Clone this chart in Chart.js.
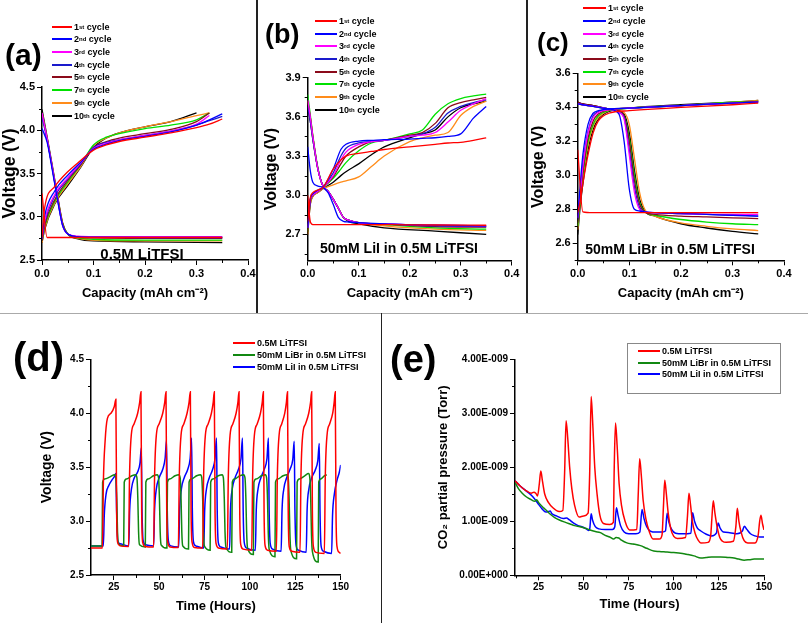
<!DOCTYPE html>
<html>
<head>
<meta charset="utf-8">
<script src="https://cdn.jsdelivr.net/npm/chart.js@4.4.1/dist/chart.umd.min.js"></script>
<style>
body { margin: 0; background: #fff; }
#fig { position: relative; width: 808px; height: 623px; overflow: hidden; font-family: "Liberation Sans", Arial, sans-serif; font-weight: bold; color: #000; }
#fig canvas { position: absolute; }
.lbl { position: absolute; line-height: 1; white-space: nowrap; }
.rule { position: absolute; }
.leg { position: absolute; }
.leg .row { display: flex; align-items: center; white-space: nowrap; }
.leg .sw { display: inline-block; height: 2px; margin-right: 2px; }
.leg sup { font-size: 6px; line-height: 0; vertical-align: 4px; }
.note { position: absolute; transform: translate(-50%, -50%); white-space: nowrap; line-height: 1; }
.box { position: absolute; border: 1px solid #888; }
</style>
</head>
<body>
<div id="fig">
  <canvas id="ca" width="257" height="312" style="left:0;top:0"></canvas>
  <canvas id="cb" width="268" height="312" style="left:258px;top:0"></canvas>
  <canvas id="cc" width="280" height="312" style="left:528px;top:0"></canvas>
  <canvas id="cd" width="380" height="309" style="left:0;top:314px"></canvas>
  <canvas id="ce" width="426" height="309" style="left:382px;top:314px"></canvas>

  <div class="rule" style="left:256px;top:0;width:1.5px;height:313px;background:#222"></div>
  <div class="rule" style="left:526px;top:0;width:1.5px;height:313px;background:#222"></div>
  <div class="rule" style="left:0;top:312.5px;width:808px;height:1.5px;background:#aaa"></div>
  <div class="rule" style="left:380.5px;top:313px;width:1.5px;height:310px;background:#222"></div>

  <div class="lbl" style="left:5px;top:39.5px;font-size:30px">(a)</div>
  <div class="lbl" style="left:265px;top:21px;font-size:27px">(b)</div>
  <div class="lbl" style="left:537px;top:28.5px;font-size:26px">(c)</div>
  <div class="lbl" style="left:13px;top:336.5px;font-size:40px">(d)</div>
  <div class="lbl" style="left:390px;top:340px;font-size:38px">(e)</div>

  <div class="note" style="left:142px;top:253px;font-size:15px">0.5M LiTFSI</div>
  <div class="note" style="left:399px;top:248px;font-size:14px">50mM LiI in 0.5M LiTFSI</div>
  <div class="note" style="left:670px;top:249px;font-size:14px">50mM LiBr in 0.5M LiTFSI</div>

  <div class="box" style="left:627px;top:343px;width:152px;height:49px"></div>
</div>
<script>
// ---- ciclos (a)-(c) ----
var cycleNames = ['1st', '2nd', '3rd', '4th', '5th', '7th', '9th', '10th'];
var cycleColors = ['#ff0000', '#0000ff', '#ff00ff', '#1a1acc', '#8b0a1a', '#00e000', '#ff8c1a', '#000000'];

var capTicks = [0, 0.1, 0.2, 0.3, 0.4];

// (a) 0.5M LiTFSI
var aDisX = [0, 0.01, 0.02, 0.03, 0.04, 0.05, 0.07, 0.1, 0.2, 0.35];
var aDis = [
	[3.27, 2.76, 2.76, 2.76, 2.76, 2.76, 2.76, 2.76, 2.76, 2.76],
	[4.02, 3.86, 3.54, 3.2, 2.9, 2.8, 2.77, 2.765, 2.76, 2.76],
	[4.2, 3.9, 3.57, 3.22, 2.9, 2.8, 2.775, 2.77, 2.77, 2.77],
	[4.15, 3.89, 3.56, 3.21, 2.9, 2.8, 2.77, 2.765, 2.76, 2.76],
	[4.2, 3.9, 3.57, 3.23, 2.92, 2.8, 2.765, 2.755, 2.75, 2.75],
	[4.2, 3.9, 3.57, 3.23, 2.92, 2.8, 2.755, 2.74, 2.73, 2.73],
	[4.2, 3.9, 3.58, 3.24, 2.93, 2.8, 2.75, 2.73, 2.72, 2.72],
	[4.24, 3.92, 3.59, 3.25, 2.93, 2.8, 2.745, 2.72, 2.71, 2.7]
];
var aChgX = [0, 0.005, 0.025, 0.05, 0.075, 0.1, 0.125, 0.15, 0.2, 0.25, 0.3, 0.325, 0.35];
var aChg = [
	[2.76, 3.1, 3.35, 3.52, 3.65, 3.77, 3.83, 3.87, 3.92, 3.97, 4.03, 4.07, 4.13],
	[2.75, 3.0, 3.3, 3.48, 3.63, 3.78, 3.84, 3.88, 3.93, 3.98, 4.06, 4.12, 4.19],
	[2.75, 2.95, 3.26, 3.45, 3.62, 3.79, 3.85, 3.89, 3.94, 3.99, 4.07, 4.17, null],
	[2.75, 2.93, 3.24, 3.44, 3.61, 3.8, 3.86, 3.89, 3.94, 3.99, 4.06, 4.11, 4.16],
	[2.72, 2.9, 3.2, 3.42, 3.6, 3.8, 3.87, 3.91, 3.96, 4.01, 4.1, 4.2, null],
	[2.72, 2.88, 3.18, 3.4, 3.6, 3.83, 3.92, 3.96, 4.02, 4.06, 4.12, 4.2, null],
	[2.7, 2.86, 3.16, 3.38, 3.58, 3.82, 3.91, 3.97, 4.04, 4.1, 4.17, 4.2, null],
	[2.7, 2.85, 3.15, 3.36, 3.57, 3.8, 3.91, 3.97, 4.04, 4.1, 4.2, null, null]
];

// (b) 50mM LiI
var bDisX = [0, 0.005, 0.01, 0.02, 0.03, 0.04, 0.05, 0.06, 0.07, 0.08, 0.1, 0.15, 0.25, 0.35];
var bDis = [
	[3.0, 2.8, 2.775, 2.775, 2.775, 2.775, 2.775, 2.775, 2.775, 2.775, 2.775, 2.775, 2.772, 2.77],
	[3.37, 3.19, 3.1, 3.07, 3.06, 3.02, 2.93, 2.83, 2.8, 2.795, 2.79, 2.78, 2.77, 2.765],
	[3.73, 3.6, 3.45, 3.2, 3.07, 3.03, 2.97, 2.9, 2.83, 2.81, 2.79, 2.78, 2.77, 2.765],
	[3.68, 3.57, 3.43, 3.2, 3.07, 3.03, 2.97, 2.9, 2.83, 2.81, 2.79, 2.78, 2.765, 2.76],
	[3.72, 3.6, 3.45, 3.2, 3.07, 3.03, 2.97, 2.9, 2.83, 2.81, 2.79, 2.78, 2.76, 2.755],
	[3.77, 3.62, 3.46, 3.21, 3.07, 3.03, 2.97, 2.9, 2.83, 2.81, 2.79, 2.775, 2.75, 2.74],
	[3.72, 3.6, 3.45, 3.2, 3.07, 3.03, 2.97, 2.9, 2.83, 2.81, 2.79, 2.765, 2.74, 2.73],
	[3.68, 3.57, 3.43, 3.2, 3.07, 3.03, 2.97, 2.9, 2.83, 2.8, 2.78, 2.75, 2.725, 2.7]
];
var bChgX = [0, 0.005, 0.01, 0.02, 0.03, 0.05, 0.065, 0.075, 0.1, 0.125, 0.15, 0.2, 0.225, 0.25, 0.275, 0.3, 0.325, 0.35];
var bChg = [
	[2.8, 2.98, 3.02, 3.04, 3.06, 3.2, 3.27, 3.3, 3.32, 3.335, 3.35, 3.37, 3.38, 3.39, 3.4, 3.405, 3.42, 3.44],
	[2.75, 2.97, 3.01, 3.04, 3.06, 3.2, 3.35, 3.39, 3.415, 3.42, 3.425, 3.43, 3.435, 3.44, 3.45, 3.47, 3.59, 3.68],
	[2.75, 2.96, 3.0, 3.03, 3.06, 3.15, 3.27, 3.33, 3.39, 3.41, 3.42, 3.45, 3.46, 3.48, 3.56, 3.65, 3.7, 3.74],
	[2.75, 2.96, 3.0, 3.03, 3.06, 3.17, 3.3, 3.36, 3.4, 3.41, 3.42, 3.45, 3.47, 3.52, 3.63, 3.68, 3.71, 3.73],
	[2.72, 2.95, 3.0, 3.03, 3.06, 3.14, 3.24, 3.3, 3.37, 3.41, 3.42, 3.46, 3.48, 3.55, 3.67, 3.71, 3.73, 3.75],
	[2.72, 2.95, 3.0, 3.03, 3.06, 3.13, 3.2, 3.25, 3.34, 3.4, 3.42, 3.47, 3.5, 3.62, 3.7, 3.74, 3.76, 3.775],
	[2.7, 2.93, 2.99, 3.02, 3.05, 3.08, 3.1, 3.11, 3.14, 3.22, 3.3, 3.41, 3.44, 3.46, 3.48, 3.61, 3.68, 3.72],
	[2.7, 2.93, 2.99, 3.02, 3.05, 3.1, 3.15, 3.18, 3.24, 3.31, 3.37, 3.44, 3.47, 3.5, 3.6, 3.67, 3.7, 3.72]
];

// (c) 50mM LiBr
var cDisX = [0, 0.01, 0.03, 0.06, 0.08, 0.09, 0.1, 0.11, 0.12, 0.13, 0.15, 0.2, 0.25, 0.3, 0.35];
var cDis = [
	[3.15, 2.785, 2.78, 2.78, 2.78, 2.78, 2.78, 2.78, 2.78, 2.78, 2.78, 2.78, 2.78, 2.78, 2.78],
	[3.42, 3.415, 3.405, 3.39, 3.36, 3.2, 2.92, 2.8, 2.79, 2.785, 2.78, 2.775, 2.77, 2.765, 2.76],
	[3.42, 3.415, 3.405, 3.39, 3.37, 3.33, 3.12, 2.9, 2.8, 2.785, 2.78, 2.775, 2.77, 2.77, 2.77],
	[3.42, 3.415, 3.405, 3.39, 3.37, 3.34, 3.15, 2.93, 2.81, 2.785, 2.78, 2.775, 2.77, 2.765, 2.76],
	[3.43, 3.42, 3.41, 3.39, 3.38, 3.35, 3.2, 2.97, 2.83, 2.785, 2.77, 2.76, 2.755, 2.75, 2.745],
	[3.42, 3.415, 3.405, 3.39, 3.375, 3.35, 3.22, 3.0, 2.84, 2.785, 2.765, 2.74, 2.725, 2.715, 2.71],
	[3.42, 3.415, 3.405, 3.39, 3.38, 3.37, 3.3, 3.1, 2.9, 2.8, 2.76, 2.72, 2.7, 2.685, 2.675],
	[3.43, 3.42, 3.41, 3.39, 3.375, 3.36, 3.25, 3.03, 2.86, 2.79, 2.76, 2.715, 2.69, 2.67, 2.655]
];
var cChgX = [0, 0.005, 0.01, 0.02, 0.03, 0.04, 0.06, 0.1, 0.2, 0.3, 0.35];
var cChg = [
	[2.78, 2.85, 2.95, 3.12, 3.25, 3.32, 3.365, 3.38, 3.4, 3.415, 3.425],
	[2.75, 2.95, 3.12, 3.3, 3.365, 3.38, 3.39, 3.395, 3.41, 3.425, 3.43],
	[2.75, 2.9, 3.05, 3.25, 3.34, 3.37, 3.385, 3.395, 3.41, 3.425, 3.43],
	[2.74, 2.9, 3.06, 3.26, 3.35, 3.375, 3.39, 3.395, 3.41, 3.425, 3.43],
	[2.72, 2.88, 3.02, 3.22, 3.32, 3.36, 3.385, 3.395, 3.41, 3.425, 3.435],
	[2.7, 2.86, 3.0, 3.2, 3.3, 3.35, 3.38, 3.395, 3.41, 3.43, 3.435],
	[2.68, 2.85, 2.98, 3.18, 3.29, 3.34, 3.38, 3.395, 3.41, 3.43, 3.44],
	[2.65, 2.82, 2.95, 3.15, 3.27, 3.33, 3.375, 3.395, 3.415, 3.43, 3.44]
];

// ---- (d) y (e): series en el tiempo ----
var seriesNames = ['0.5M LiTFSI', '50mM LiBr in 0.5M LiTFSI', '50mM LiI in 0.5M LiTFSI'];
var seriesColors = ['#ff0000', '#118811', '#0000ff'];
var timeTicks = [25, 50, 75, 100, 125, 150];

var dRedT = [12.5, 18.8, 19.3, 20.3, 21.5, 23.5, 25.3, 26.2, 26.6, 27.2, 28.5,
	33.2, 33.7, 34.7, 36.2, 38.2, 39.3, 40.0, 40.4, 41.0, 42.3,
	47.0, 47.5, 48.5, 50.0, 52.0, 53.1, 53.8, 54.2, 54.8, 56.1,
	60.6, 61.1, 62.1, 63.6, 65.4, 66.5, 67.2, 67.6, 68.2, 69.5,
	74.0, 74.5, 75.5, 77.0, 78.8, 79.8, 80.4, 80.8, 81.4, 82.7,
	87.6, 88.1, 89.1, 90.6, 92.4, 93.4, 94.0, 94.4, 95.0, 96.3,
	101.0, 101.5, 102.5, 104.0, 105.8, 106.8, 107.4, 107.8, 108.4, 109.7,
	114.6, 115.1, 116.1, 117.5, 119.2, 120.1, 120.7, 121.1, 121.7, 123.0,
	127.6, 128.1, 129.1, 130.6, 132.4, 133.4, 134.0, 134.4, 135.0, 136.3,
	141.0, 141.5, 142.5, 143.9, 145.6, 146.4, 147.0, 147.4, 148.0, 149.2, 150.0];
var dRedV = [2.75, 2.75, 3.35, 3.75, 3.95, 4.0, 4.06, 4.13, 3.1, 2.8, 2.77,
	2.765, 3.4, 3.8, 3.9, 4.0, 4.1, 4.2, 3.1, 2.8, 2.765,
	2.76, 3.4, 3.8, 3.9, 4.0, 4.1, 4.2, 3.1, 2.8, 2.76,
	2.755, 3.4, 3.8, 3.9, 4.0, 4.1, 4.2, 3.1, 2.8, 2.755,
	2.75, 3.4, 3.8, 3.9, 4.0, 4.1, 4.2, 3.1, 2.79, 2.75,
	2.74, 3.4, 3.8, 3.9, 4.0, 4.1, 4.2, 3.1, 2.78, 2.74,
	2.73, 3.4, 3.8, 3.9, 4.0, 4.1, 4.2, 3.1, 2.77, 2.73,
	2.72, 3.4, 3.8, 3.9, 4.0, 4.1, 4.2, 3.1, 2.76, 2.72,
	2.71, 3.4, 3.8, 3.9, 4.0, 4.1, 4.2, 3.1, 2.76, 2.71,
	2.7, 3.4, 3.8, 3.9, 4.0, 4.1, 4.2, 3.1, 2.76, 2.71, 2.7];

var dGreenT = [12.5, 18.6, 18.9, 20.0, 23.0, 25.5, 26.2, 26.7, 27.1, 27.6,
	30.5, 30.8, 32.0, 35.0, 37.1, 37.8, 38.3, 38.7, 39.2,
	42.4, 42.7, 43.9, 46.9, 49.0, 49.7, 50.2, 50.6, 51.1,
	54.3, 54.6, 55.8, 58.8, 60.9, 61.6, 62.1, 62.5, 63.0,
	66.2, 66.5, 67.7, 70.7, 72.8, 73.5, 74.0, 74.4, 74.9,
	78.1, 78.4, 79.6, 82.6, 84.7, 85.4, 85.9, 86.3, 86.8,
	90.0, 90.3, 91.5, 94.5, 96.6, 97.3, 97.8, 98.2, 98.7,
	101.9, 102.2, 103.4, 106.4, 108.5, 109.2, 109.7, 110.1, 110.6,
	113.8, 114.1, 115.3, 118.3, 120.4, 121.1, 121.6, 122.0, 122.5,
	125.7, 126.0, 127.2, 130.2, 132.3, 133.0, 133.5, 133.9, 134.4,
	137.6, 137.9, 139.0, 141.0, 142.3];
var dGreenV = [2.77, 2.77, 3.36, 3.39, 3.41, 3.43, 3.4, 3.2, 2.9, 2.79,
	2.77, 3.36, 3.39, 3.42, 3.43, 3.4, 3.2, 2.9, 2.78,
	2.76, 3.36, 3.39, 3.42, 3.43, 3.4, 3.2, 2.9, 2.78,
	2.75, 3.36, 3.39, 3.42, 3.43, 3.4, 3.2, 2.9, 2.77,
	2.74, 3.36, 3.39, 3.42, 3.43, 3.4, 3.2, 2.9, 2.77,
	2.73, 3.36, 3.39, 3.42, 3.43, 3.4, 3.2, 2.9, 2.76,
	2.71, 3.36, 3.39, 3.42, 3.43, 3.4, 3.2, 2.9, 2.75,
	2.69, 3.36, 3.39, 3.42, 3.43, 3.4, 3.2, 2.9, 2.74,
	2.67, 3.36, 3.39, 3.42, 3.43, 3.4, 3.2, 2.9, 2.73,
	2.65, 3.36, 3.39, 3.42, 3.44, 3.4, 3.2, 2.88, 2.72,
	2.62, 3.36, 3.39, 3.42, 3.43];

var dBlueT = [12.5, 19.3, 19.8, 20.8, 22.3, 24.0, 25.3, 26.2, 26.6, 27.2, 28.5,
	33.3, 33.8, 34.8, 36.3, 38.3, 39.5, 40.2, 40.6, 41.2, 42.5,
	47.0, 47.5, 48.5, 50.0, 52.0, 53.3, 54.1, 54.5, 55.1, 56.4,
	60.8, 61.3, 62.3, 63.8, 65.8, 67.1, 67.9, 68.3, 68.9, 70.2,
	74.6, 75.1, 76.1, 77.6, 79.5, 80.8, 81.6, 82.0, 82.6, 83.9,
	88.8, 89.3, 90.3, 91.8, 93.7, 95.1, 95.9, 96.3, 96.9, 98.2,
	103.0, 103.5, 104.5, 106.0, 107.9, 109.4, 110.2, 110.6, 111.2, 112.5,
	117.2, 117.7, 118.7, 120.2, 122.1, 123.6, 124.4, 124.8, 125.4, 126.7,
	131.0, 131.5, 132.5, 134.0, 135.9, 137.4, 138.2, 138.6, 139.2, 140.5,
	145.0, 145.5, 146.5, 148.0, 149.2, 150.0];
var dBlueV = [2.77, 2.77, 3.05, 3.25, 3.33, 3.38, 3.41, 3.44, 3.1, 2.82, 2.79,
	2.77, 3.1, 3.3, 3.4, 3.46, 3.54, 3.68, 3.1, 2.82, 2.78,
	2.77, 3.1, 3.3, 3.4, 3.48, 3.58, 3.75, 3.1, 2.82, 2.77,
	2.76, 3.1, 3.3, 3.4, 3.48, 3.58, 3.77, 3.1, 2.81, 2.77,
	2.75, 3.1, 3.3, 3.4, 3.48, 3.58, 3.77, 3.1, 2.8, 2.76,
	2.74, 3.1, 3.3, 3.4, 3.48, 3.58, 3.77, 3.1, 2.8, 2.75,
	2.73, 3.1, 3.3, 3.4, 3.48, 3.58, 3.77, 3.1, 2.79, 2.74,
	2.72, 3.1, 3.3, 3.4, 3.48, 3.57, 3.74, 3.1, 2.78, 2.73,
	2.71, 3.1, 3.3, 3.4, 3.47, 3.56, 3.72, 3.1, 2.77, 2.72,
	2.7, 3.05, 3.25, 3.38, 3.45, 3.52];

// presion parcial de CO2, en unidades de 1E-009 Torr
var eRedT = [12, 15, 18, 21, 22.5, 23.5, 24.5, 25.5, 26.3, 27.2, 28.5, 30.5, 33, 36.5, 38.5, 39.5, 40.3, 41.2, 42.3, 43.5,
	45, 47.5, 50, 52.5, 53.4, 54.2, 55.1, 56.2, 57.5, 59, 61, 64.5, 66.5, 67.0, 67.7, 68.6, 69.7, 71, 73, 75.5,
	79.5, 80.3, 81.1, 82, 83, 84.5, 86.5, 88.5, 92, 93.5, 94.3, 95.0, 95.9, 96.9, 98.4, 100, 102, 106.5, 107.6, 108.4,
	109.3, 110.3, 111.8, 113.5, 115, 119, 120.5, 121.1, 121.9, 122.8, 124, 125.5, 127, 129, 133, 134.4, 135.2, 136.1, 137.3, 139,
	141, 145, 146.8, 147.6, 148.3, 149.2, 150];
var eRedV = [1.75, 1.65, 1.57, 1.52, 1.54, 1.52, 1.47, 1.7, 1.93, 1.75, 1.5, 1.35, 1.25, 1.18, 1.2, 1.9, 2.86, 2.55, 2.0, 1.6,
	1.3, 1.08, 1.1, 1.15, 1.9, 3.31, 2.8, 2.0, 1.5, 1.12, 0.96, 0.94, 0.98, 2.0, 2.82, 2.4, 1.7, 1.3, 1.0, 0.84,
	0.85, 1.5, 2.16, 1.85, 1.4, 1.05, 0.8, 0.67, 0.67, 0.75, 1.3, 1.76, 1.5, 1.15, 0.85, 0.72, 0.68, 0.7, 1.1, 1.52,
	1.3, 1.0, 0.78, 0.65, 0.6, 0.61, 0.75, 1.05, 1.38, 1.15, 0.9, 0.7, 0.63, 0.61, 0.63, 0.9, 1.24, 1.0, 0.8, 0.64,
	0.6, 0.6, 0.75, 1.0, 1.11, 0.95, 0.84];

var eGreenT = [12, 14, 16, 18.4, 21, 23, 24, 25, 27.8, 29.5, 31.6, 34, 36.9, 40, 42.5, 45, 48, 51, 53.6, 56.5,
	59.3, 62, 64.5, 66.7, 68, 69.5, 71, 74, 77.5, 81.5, 85, 88.9, 92, 96.3, 100, 103.8, 107, 111.2, 115, 118,
	121, 126, 130, 133.4, 136, 139, 142, 144.6, 147, 150];
var eGreenV = [1.72, 1.6, 1.52, 1.45, 1.4, 1.37, 1.4, 1.35, 1.25, 1.2, 1.13, 1.07, 1.02, 0.98, 0.95, 0.92, 0.9, 0.87, 0.84, 0.81,
	0.79, 0.74, 0.71, 0.67, 0.7, 0.69, 0.65, 0.6, 0.58, 0.55, 0.5, 0.45, 0.44, 0.43, 0.42, 0.41, 0.39, 0.36, 0.32, 0.33,
	0.34, 0.34, 0.33, 0.32, 0.3, 0.28, 0.29, 0.3, 0.3, 0.3];

var eBlueT = [12, 15, 19.8, 22, 25.4, 27, 29.1, 30.5, 31.5, 32.5, 35, 38.8, 40.6, 42, 44.3, 47, 49, 51, 52.8, 53.5,
	54.2, 55, 56.5, 58.5, 62, 66, 67.3, 68.2, 69.2, 70.5, 72.5, 75, 79, 81.2, 82.4, 83.5, 85, 87, 90, 93,
	95.4, 96.3, 97.3, 98.8, 101, 105, 109.5, 110.4, 111.5, 113, 115, 118, 121, 123.6, 124.6, 125.6, 127.5, 131, 135, 138,
	139.1, 140.5, 142.5, 145, 147.5, 150];
var eBlueV = [1.75, 1.65, 1.52, 1.45, 1.3, 1.23, 1.17, 1.18, 1.19, 1.14, 1.1, 1.05, 1.06, 1.03, 0.97, 0.92, 0.9, 0.87, 0.83, 0.88,
	1.14, 1.02, 0.9, 0.86, 0.85, 0.85, 0.9, 1.25, 1.1, 0.92, 0.8, 0.77, 0.77, 0.8, 1.22, 1.05, 0.9, 0.82, 0.8, 0.8,
	0.82, 1.15, 0.98, 0.85, 0.78, 0.77, 0.78, 1.16, 1.0, 0.88, 0.82, 0.76, 0.73, 0.78, 0.97, 0.88, 0.8, 0.79, 0.77, 0.82,
	0.91, 0.85, 0.77, 0.73, 0.71, 0.71];

/*******************************************************************************
 * Utilidades
 *******************************************************************************/

Chart.defaults.font.family = '"Liberation Sans", Arial, sans-serif';
Chart.defaults.font.weight = 'bold';
Chart.defaults.color = '#000';

var fig = document.getElementById('fig');

function puntos(xs, ys)
{
	var out = [];
	for (var i = 0; i < xs.length; i++)
	{
		if (ys[i] !== null) out.push({ x: xs[i], y: ys[i] });
	}
	return out;
}

function serie(data, color, ancho)
{
	return {
		data: data,
		borderColor: color,
		borderWidth: ancho,
		showLine: true,
		pointRadius: 0,
		fill: false,
		cubicInterpolationMode: 'monotone'
	};
}

// marcas menores hacia fuera de los ejes
var minorTicksPlugin = {
	id: 'minorTicks',
	afterDraw: function (chart, args, opts)
	{
		var ctx = chart.ctx, area = chart.chartArea;
		ctx.save();
		ctx.strokeStyle = '#000';
		ctx.lineWidth = 1;
		(opts.x || []).forEach(function (v) {
			var px = Math.round(chart.scales.x.getPixelForValue(v)) + 0.5;
			ctx.beginPath(); ctx.moveTo(px, area.bottom); ctx.lineTo(px, area.bottom + opts.len); ctx.stroke();
		});
		(opts.y || []).forEach(function (v) {
			var py = Math.round(chart.scales.y.getPixelForValue(v)) + 0.5;
			ctx.beginPath(); ctx.moveTo(area.left, py); ctx.lineTo(area.left - opts.len, py); ctx.stroke();
		});
		ctx.restore();
	}
};

function creaPanel(id, area, cfg)
{
	var canvas = document.getElementById(id);
	var W = canvas.width, H = canvas.height;

	return new Chart(canvas.getContext('2d'), {
		type: 'scatter',
		data: { datasets: cfg.datasets },
		options: {
			responsive: false,
			animation: false,
			events: [],
			layout: { padding: { left: 0, top: area.t, right: W - area.r, bottom: 0 } },
			plugins: {
				legend: { display: false },
				tooltip: { enabled: false },
				minorTicks: { x: cfg.xMinor, y: cfg.yMinor, len: 3 }
			},
			scales: {
				x: {
					type: 'linear', min: cfg.xMin, max: cfg.xMax,
					afterBuildTicks: function (s) { s.ticks = cfg.xTicks.map(function (v) { return { value: v }; }); },
					afterFit: function (s) { s.height = H - area.b; s.paddingLeft = 0; s.paddingRight = 0; },
					ticks: { callback: cfg.xFmt, font: { size: cfg.tickSize, weight: 'bold' }, color: '#000', padding: cfg.xTickPad, maxRotation: 0, autoSkip: false },
					grid: { drawOnChartArea: false, tickLength: 5, tickColor: '#000', tickWidth: 1 },
					border: { color: '#000', width: 1.5 },
					title: { display: true, text: cfg.xTitle, color: '#000', font: { size: cfg.xTitleSize, weight: 'bold' }, padding: { top: 0, bottom: cfg.xTitlePad } }
				},
				y: {
					type: 'linear', min: cfg.yMin, max: cfg.yMax,
					afterBuildTicks: function (s) { s.ticks = cfg.yTicks.map(function (v) { return { value: v }; }); },
					afterFit: function (s) { s.width = area.l; s.paddingTop = 0; s.paddingBottom = 0; },
					ticks: { callback: cfg.yFmt, font: { size: cfg.tickSize, weight: 'bold' }, color: '#000', padding: 2, autoSkip: false },
					grid: { drawOnChartArea: false, tickLength: 5, tickColor: '#000', tickWidth: 1 },
					border: { color: '#000', width: 1.5 },
					title: { display: true, text: cfg.yTitle, color: '#000', font: { size: cfg.yTitleSize, weight: 'bold' }, padding: { top: cfg.yTitlePad, bottom: 0 } }
				}
			}
		},
		plugins: [minorTicksPlugin]
	});
}

function datasetsCiclos(disX, dis, chgX, chg)
{
	var ds = [];
	for (var i = 0; i < cycleNames.length; i++)
	{
		ds.push(serie(puntos(disX, dis[i]), cycleColors[i], 1.3));
		ds.push(serie(puntos(chgX, chg[i]), cycleColors[i], 1.3));
	}
	return ds;
}

function leyendaCiclos(left, top, lineW)
{
	var div = document.createElement('div');
	div.className = 'leg';
	div.style.left = left + 'px';
	div.style.top = top + 'px';
	var html = '';
	for (var i = 0; i < cycleNames.length; i++)
	{
		var num = cycleNames[i].replace(/[a-z]+$/, '');
		var suf = cycleNames[i].slice(num.length);
		html += '<div class="row" style="height:12.7px;font-size:9px">' +
			'<span class="sw" style="width:' + lineW + 'px;background:' + cycleColors[i] + '"></span>' +
			num + '<sup>' + suf + '</sup>&nbsp;cycle</div>';
	}
	div.innerHTML = html;
	fig.appendChild(div);
}

function leyendaSeries(left, top, rowH, lineW)
{
	var div = document.createElement('div');
	div.className = 'leg';
	div.style.left = left + 'px';
	div.style.top = top + 'px';
	var html = '';
	for (var i = 0; i < seriesNames.length; i++)
	{
		html += '<div class="row" style="height:' + rowH + 'px;font-size:9px">' +
			'<span class="sw" style="width:' + lineW + 'px;background:' + seriesColors[i] + '"></span>' +
			seriesNames[i] + '</div>';
	}
	div.innerHTML = html;
	fig.appendChild(div);
}

function fmt1(v) { return v.toFixed(1); }
function fmt0(v) { return String(v); }
function fmtSci(v) { return v === 0 ? '0.00E+000' : v.toFixed(2) + 'E-009'; }

/*******************************************************************************
 * Paneles
 *******************************************************************************/

var capTitle = 'Capacity (mAh cm\u207B\u00B2)';

creaPanel('ca', { l: 42, t: 87, r: 248, b: 260 }, {
	datasets: datasetsCiclos(aDisX, aDis, aChgX, aChg),
	xMin: 0, xMax: 0.4, xTicks: capTicks, xFmt: fmt1, xMinor: [0.05, 0.15, 0.25, 0.35],
	yMin: 2.5, yMax: 4.5, yTicks: [2.5, 3.0, 3.5, 4.0, 4.5], yFmt: fmt1, yMinor: [2.75, 3.25, 3.75, 4.25],
	tickSize: 11, xTickPad: 2,
	xTitle: capTitle, xTitleSize: 13, xTitlePad: 11,
	yTitle: 'Voltage (V)', yTitleSize: 17.5, yTitlePad: 0
});

creaPanel('cb', { l: 49.7, t: 77.7, r: 253.7, b: 260.5 }, {
	datasets: datasetsCiclos(bDisX, bDis, bChgX, bChg),
	xMin: 0, xMax: 0.4, xTicks: capTicks, xFmt: fmt1, xMinor: [0.05, 0.15, 0.25, 0.35],
	yMin: 2.5, yMax: 3.9, yTicks: [2.7, 3.0, 3.3, 3.6, 3.9], yFmt: fmt1, yMinor: [2.55, 2.85, 3.15, 3.45, 3.75],
	tickSize: 11, xTickPad: 2,
	xTitle: capTitle, xTitleSize: 13, xTitlePad: 11,
	yTitle: 'Voltage (V)', yTitleSize: 16, yTitlePad: 4
});

creaPanel('cc', { l: 49.7, t: 73.3, r: 256, b: 260.3 }, {
	datasets: datasetsCiclos(cDisX, cDis, cChgX, cChg),
	xMin: 0, xMax: 0.4, xTicks: capTicks, xFmt: fmt1, xMinor: [0.05, 0.15, 0.25, 0.35],
	yMin: 2.5, yMax: 3.6, yTicks: [2.6, 2.8, 3.0, 3.2, 3.4, 3.6], yFmt: fmt1, yMinor: [2.5, 2.7, 2.9, 3.1, 3.3, 3.5],
	tickSize: 11, xTickPad: 2,
	xTitle: capTitle, xTitleSize: 13, xTitlePad: 11,
	yTitle: 'Voltage (V)', yTitleSize: 16, yTitlePad: 1
});

creaPanel('cd', { l: 91, t: 45.3, r: 340.7, b: 261 }, {
	datasets: [
		serie(puntos(dRedT, dRedV), seriesColors[0], 1.5),
		serie(puntos(dGreenT, dGreenV), seriesColors[1], 1.5),
		serie(puntos(dBlueT, dBlueV), seriesColors[2], 1.5)
	],
	xMin: 12.5, xMax: 150, xTicks: timeTicks, xFmt: fmt0, xMinor: [37.5, 62.5, 87.5, 112.5, 137.5],
	yMin: 2.5, yMax: 4.5, yTicks: [2.5, 3.0, 3.5, 4.0, 4.5], yFmt: fmt1, yMinor: [2.75, 3.25, 3.75, 4.25],
	tickSize: 10, xTickPad: 1,
	xTitle: 'Time (Hours)', xTitleSize: 13, xTitlePad: 9,
	yTitle: 'Voltage (V)', yTitleSize: 14, yTitlePad: 38.6
});

creaPanel('ce', { l: 133, t: 45.3, r: 382, b: 261.3 }, {
	datasets: [
		serie(puntos(eRedT, eRedV), seriesColors[0], 1.5),
		serie(puntos(eGreenT, eGreenV), seriesColors[1], 1.5),
		serie(puntos(eBlueT, eBlueV), seriesColors[2], 1.5)
	],
	xMin: 12, xMax: 150, xTicks: timeTicks, xFmt: fmt0, xMinor: [12.5, 37.5, 62.5, 87.5, 112.5, 137.5],
	yMin: 0, yMax: 4, yTicks: [0, 1, 2, 3, 4], yFmt: fmtSci, yMinor: [0.5, 1.5, 2.5, 3.5],
	tickSize: 10, xTickPad: 1,
	xTitle: 'Time (Hours)', xTitleSize: 13, xTitlePad: 11,
	yTitle: 'CO\u2082 partial pressure (Torr)', yTitleSize: 13, yTitlePad: 53.7
});

leyendaCiclos(52, 20.4, 20);
leyendaCiclos(315, 14.7, 22);
leyendaCiclos(583, 2, 23);
leyendaSeries(233, 337, 12, 22);
leyendaSeries(638, 345.3, 11.5, 22);
</script>
</body>
</html>
